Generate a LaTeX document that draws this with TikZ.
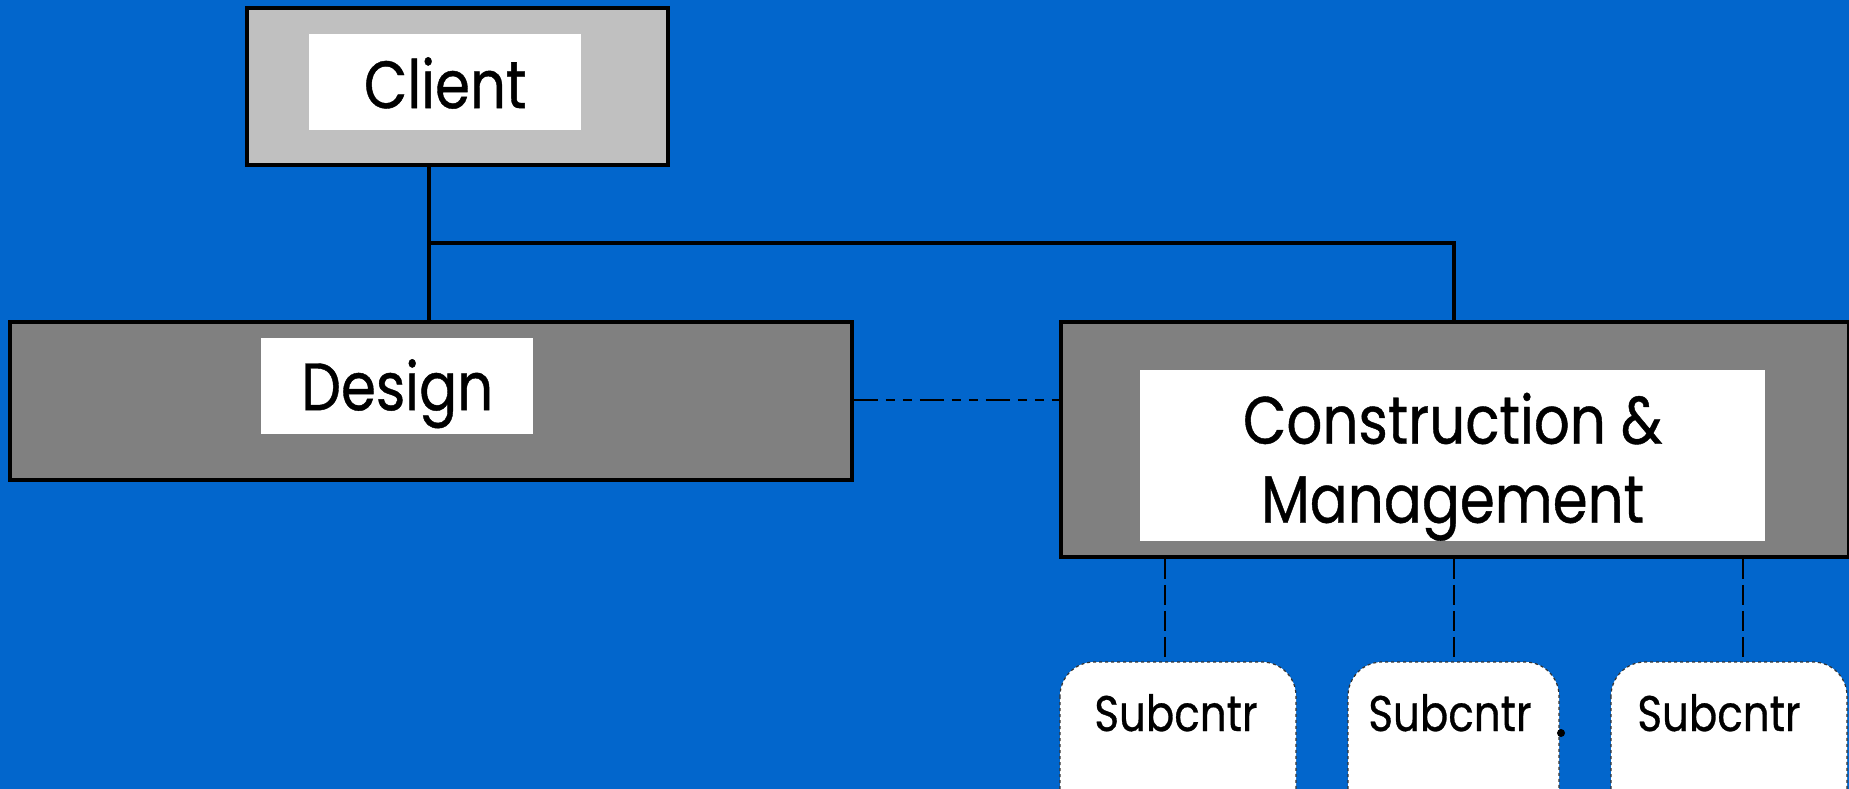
\documentclass[tikz,border=0pt]{standalone}
\usepackage{fontspec}
\setmainfont{Poppins}[FakeStretch=0.84,FakeBold=0.6]
\definecolor{bgblue}{RGB}{2,102,204}
\definecolor{clientgray}{RGB}{192,192,192}
\definecolor{darkgray}{RGB}{128,128,128}
\tikzset{
  outerbox/.style={draw=black, line width=3.8pt, anchor=north west, inner sep=0pt},
  labelbox/.style={fill=white, anchor=north west, inner sep=0pt},
  bigtext/.style={font=\fontsize{67}{76}\selectfont},
  smalltext/.style={font=\fontsize{50}{56}\selectfont},
  conn/.style={draw=black, line width=3.6pt},
  dashdotline/.style={draw=black, line width=1.8pt, dash pattern=on 24pt off 8pt on 9pt off 8pt on 9pt off 8pt},
  dashline/.style={draw=black, line width=1.4pt, dash pattern=on 20pt off 6pt},
  subbox/.style={fill=white, draw=black!80, line width=1.2pt, dashed, rounded corners=34pt},
}
\begin{document}
\begin{tikzpicture}[x=1pt,y=-1pt]
\useasboundingbox (0,0) rectangle (1849,789);
\clip (0,0) rectangle (1849,789);
\fill[bgblue] (0,0) rectangle (1849,789);
% outer boxes
\node[outerbox, fill=clientgray, minimum width=421pt, minimum height=157pt] (client) at (245,6) {};
\node[outerbox, fill=darkgray, minimum width=842pt, minimum height=158pt] (design) at (8,320) {};
\node[outerbox, fill=darkgray, minimum width=788pt, minimum height=235pt] (constr) at (1059,320) {};
% white label boxes
\node[labelbox, minimum width=272pt, minimum height=96pt] (clientlbl) at (309,34) {};
\node[labelbox, minimum width=272pt, minimum height=96pt] (designlbl) at (261,338) {};
\node[labelbox, minimum width=625pt, minimum height=171pt] (constrlbl) at (1140,370) {};
\node[bigtext, inner sep=0pt, anchor=base] (clienttxt) at ([yshift=-26pt]clientlbl.center) {Client};
\node[bigtext, inner sep=0pt, anchor=base] (designtxt) at ([yshift=-24pt]designlbl.center) {Design};
\node[bigtext, inner sep=0pt, anchor=base] (constrtxt1) at ([yshift=12pt]constrlbl.center) {Construction \&};
\node[bigtext, inner sep=0pt, anchor=base] (constrtxt2) at ([yshift=-67pt]constrlbl.center) {Management};
% subcontractor boxes
\draw[subbox] (1060,662) rectangle (1296,840);
\draw[subbox] (1348,662) rectangle (1559,840);
\draw[subbox] (1611,662) rectangle (1847,840);
\node[smalltext, inner sep=0pt, anchor=base] (sub1) at (1176,731) {Subcntr};
\node[smalltext, inner sep=0pt, anchor=base] (sub2) at (1450,731) {Subcntr};
\node[smalltext, inner sep=0pt, anchor=base] (sub3) at (1719,731) {Subcntr};
\coordinate (s1top) at (1165,662);
\coordinate (s2top) at (1454,662);
\coordinate (s3top) at (1743,662);
\fill[black] (1561,733) circle (4pt);
% connectors
\coordinate (j1) at (429,243);
\coordinate (j2) at (1454,243);
\draw[conn] (client.south -| j1) -- (j1) -- (design.north -| j1);
\draw[conn] (j1) -- (j2) -- (constr.north -| j2);
\draw[dashdotline] (design.east |- 0,400) -- (constr.west |- 0,400);
\draw[dashline] (constr.south -| s1top) -- (s1top);
\draw[dashline] (constr.south -| s2top) -- (s2top);
\draw[dashline] (constr.south -| s3top) -- (s3top);
\end{tikzpicture}
\end{document}
